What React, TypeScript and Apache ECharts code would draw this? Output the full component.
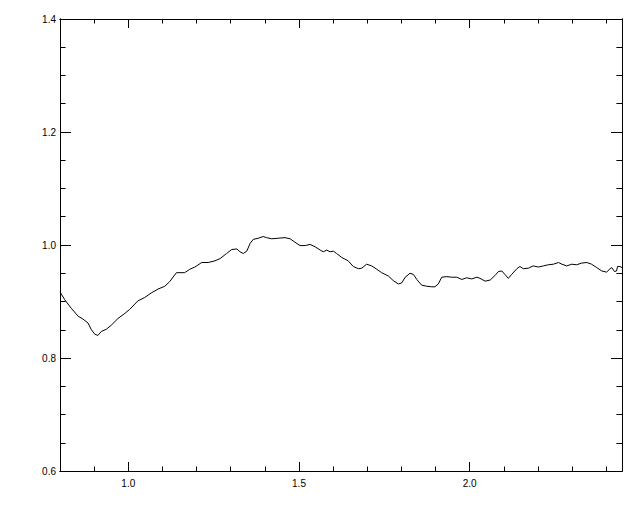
import React, { useEffect, useRef } from "react";
import * as echarts from "echarts";

const xMin = 0.8;
const xMax = 2.446;
const yMin = 0.6;
const yMax = 1.4;

const xMajorTicks = [1.0, 1.5, 2.0];
const xMinorTicks = [0.9, 1.1, 1.2, 1.3, 1.4, 1.6, 1.7, 1.8, 1.9, 2.1, 2.2, 2.3, 2.4];
const yMajorTicks = [0.6, 0.8, 1.0, 1.2, 1.4];
const yMinorTicks = [0.65, 0.7, 0.75, 0.85, 0.9, 0.95, 1.05, 1.1, 1.15, 1.25, 1.3, 1.35];

const xValues = [
  0.8, 0.814, 0.833, 0.853, 0.867, 0.882, 0.892, 0.902, 0.911, 0.921, 0.936, 0.95, 0.97, 0.99,
  1.004, 1.028, 1.048, 1.067, 1.087, 1.107, 1.121, 1.141, 1.165, 1.18, 1.195, 1.215, 1.234,
  1.254, 1.269, 1.288, 1.303, 1.318, 1.327, 1.337, 1.347, 1.357, 1.366, 1.381, 1.395, 1.405,
  1.42, 1.439, 1.459, 1.474, 1.488, 1.503, 1.518, 1.532, 1.547, 1.562, 1.571, 1.581, 1.591,
  1.601, 1.61, 1.625, 1.644, 1.659, 1.674, 1.684, 1.698, 1.713, 1.728, 1.742, 1.762, 1.776,
  1.791, 1.801, 1.811, 1.825, 1.835, 1.845, 1.859, 1.874, 1.889, 1.898, 1.908, 1.918, 1.933,
  1.947, 1.962, 1.977, 1.991, 2.006, 2.021, 2.03, 2.045, 2.06, 2.074, 2.084, 2.094, 2.103,
  2.113, 2.123, 2.138, 2.147, 2.157, 2.172, 2.186, 2.201, 2.216, 2.23, 2.245, 2.26, 2.27,
  2.284, 2.299, 2.313, 2.328, 2.343, 2.357, 2.372, 2.387, 2.401, 2.411, 2.416, 2.424, 2.43,
  2.433, 2.44, 2.446,
];
const yValues = [
  0.917, 0.903, 0.888, 0.874, 0.869, 0.862, 0.85, 0.842, 0.84, 0.847, 0.851, 0.858, 0.87, 0.879,
  0.886, 0.901, 0.907, 0.915, 0.922, 0.927, 0.935, 0.951, 0.951, 0.957, 0.961, 0.969, 0.969,
  0.972, 0.976, 0.985, 0.992, 0.993, 0.988, 0.985, 0.989, 1.003, 1.01, 1.012, 1.015, 1.013,
  1.011, 1.012, 1.013, 1.011, 1.005, 0.999, 0.999, 1.001, 0.997, 0.991, 0.988, 0.991, 0.988,
  0.989, 0.985, 0.978, 0.972, 0.962, 0.958, 0.959, 0.966, 0.963, 0.957, 0.951, 0.945, 0.937,
  0.931, 0.933, 0.943, 0.95, 0.948, 0.939, 0.929, 0.927, 0.926, 0.926, 0.931, 0.943, 0.944,
  0.943, 0.943, 0.939, 0.942, 0.94, 0.943, 0.941, 0.936, 0.938, 0.946, 0.953, 0.954, 0.948,
  0.941, 0.948, 0.958, 0.962, 0.958, 0.959, 0.963, 0.961, 0.963, 0.965, 0.966, 0.969, 0.966,
  0.963, 0.966, 0.965, 0.968, 0.969, 0.966, 0.96, 0.954, 0.952, 0.958, 0.96, 0.953, 0.954,
  0.962, 0.962, 0.96,
];

const black = "#000000";
const font = { fontFamily: "Liberation Sans", fontSize: 10, color: black };

function xAxisDef(position: "top" | "bottom", ticks: number[], len: number, labels: boolean) {
  return {
    type: "value",
    position,
    min: xMin,
    max: xMax,
    axisLine: { show: true, onZero: false, lineStyle: { color: black, width: 1 } },
    axisTick: { show: true, inside: true, length: len, customValues: ticks, lineStyle: { color: black, width: 1 } },
    axisLabel: labels
      ? { show: true, customValues: ticks, margin: 7, formatter: (v: number) => v.toFixed(1), ...font }
      : { show: false },
    splitLine: { show: false },
  };
}

function yAxisDef(position: "left" | "right", ticks: number[], len: number, labels: boolean) {
  return {
    type: "value",
    position,
    min: yMin,
    max: yMax,
    axisLine: { show: true, onZero: false, lineStyle: { color: black, width: 1 } },
    axisTick: { show: true, inside: true, length: len, customValues: ticks, lineStyle: { color: black, width: 1 } },
    axisLabel: labels
      ? { show: true, customValues: ticks, margin: 4, formatter: (v: number) => v.toFixed(1), ...font }
      : { show: false },
    splitLine: { show: false },
  };
}

export default function App() {
  const ref = useRef<HTMLDivElement>(null);
  useEffect(() => {
    if (!ref.current) return;
    const chart = echarts.init(ref.current, null, { renderer: "svg" });
    const data = xValues.map((x, i) => [x, yValues[i]]);
    chart.setOption({
      animation: false,
      backgroundColor: "#ffffff",
      grid: { left: 60, top: 19, right: 18, bottom: 41, containLabel: false, outerBoundsMode: "none" },
      xAxis: [
        xAxisDef("bottom", xMinorTicks, 4.5, false),
        xAxisDef("bottom", xMajorTicks, 9, true),
        xAxisDef("top", xMinorTicks, 4.5, false),
        xAxisDef("top", xMajorTicks, 9, false),
      ],
      yAxis: [
        yAxisDef("left", yMinorTicks, 5.6, false),
        yAxisDef("left", yMajorTicks, 11, true),
        yAxisDef("right", yMinorTicks, 5.6, false),
        yAxisDef("right", yMajorTicks, 11, false),
      ],
      series: [
        {
          type: "line",
          xAxisIndex: 0,
          yAxisIndex: 0,
          data,
          showSymbol: false,
          symbol: "none",
          clip: true,
          lineStyle: { color: black, width: 1 },
        },
      ],
    });
    return () => chart.dispose();
  }, []);
  return (
    <div
      ref={ref}
      style={{ position: "fixed", left: 0, top: 0, width: 640, height: 512, background: "#fff" }}
    />
  );
}
